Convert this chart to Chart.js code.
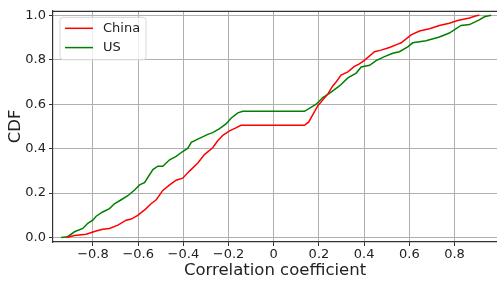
<!DOCTYPE html>
<html>
<head>
<meta charset="utf-8">
<script src="https://cdn.jsdelivr.net/npm/chart.js@4/dist/chart.umd.min.js"></script>
<style>
html,body{margin:0;padding:0;background:#fff;}
#wrap{width:497px;height:281px;}
</style>
</head>
<body>
<div id="wrap"><canvas id="c" width="497" height="281"></canvas></div>
<script>
const seriesNames = ["China", "US"];
const chinaX = [-0.918,-0.882,-0.83,-0.79,-0.757,-0.727,-0.69,-0.653,-0.631,-0.602,-0.565,-0.543,-0.52,-0.491,-0.461,-0.432,-0.403,-0.373,-0.336,-0.307,-0.27,-0.248,-0.224,-0.196,-0.17,-0.145,0.136,0.155,0.195,0.239,0.261,0.276,0.298,0.328,0.357,0.379,0.401,0.446,0.475,0.512,0.549,0.564,0.608,0.645,0.689,0.733,0.777,0.814,0.866,0.896,0.91];
const chinaY = [0,0.009,0.015,0.028,0.037,0.041,0.056,0.078,0.083,0.1,0.13,0.152,0.17,0.212,0.237,0.258,0.267,0.299,0.335,0.373,0.404,0.435,0.461,0.48,0.492,0.505,0.505,0.52,0.593,0.645,0.682,0.7,0.731,0.745,0.77,0.781,0.797,0.836,0.843,0.855,0.87,0.876,0.912,0.929,0.939,0.954,0.964,0.976,0.988,0.998,1.0];
const usX = [-0.941,-0.912,-0.882,-0.845,-0.823,-0.801,-0.786,-0.757,-0.727,-0.705,-0.675,-0.646,-0.616,-0.594,-0.572,-0.535,-0.513,-0.491,-0.461,-0.432,-0.403,-0.38,-0.365,-0.329,-0.292,-0.27,-0.24,-0.21,-0.189,-0.159,-0.137,0.136,0.188,0.217,0.246,0.291,0.328,0.365,0.387,0.424,0.453,0.49,0.527,0.556,0.593,0.615,0.674,0.733,0.777,0.829,0.866,0.91,0.932,0.962];
const usY = [0,0.004,0.026,0.041,0.064,0.078,0.096,0.115,0.13,0.152,0.17,0.188,0.214,0.237,0.247,0.306,0.321,0.321,0.35,0.365,0.387,0.402,0.428,0.446,0.464,0.472,0.49,0.512,0.537,0.561,0.568,0.568,0.6,0.63,0.649,0.682,0.718,0.74,0.767,0.775,0.796,0.814,0.829,0.836,0.858,0.876,0.885,0.902,0.92,0.954,0.958,0.979,0.993,1.0];
const xTicks = [-0.8,-0.6,-0.4,-0.2,0,0.2,0.4,0.6,0.8];
const yTicks = [0,0.2,0.4,0.6,0.8,1.0];
const xTitle = "Correlation coefficient";
const yTitle = "CDF";

const FONT = "'DejaVu Sans', sans-serif";
const toPts = (xs, ys) => xs.map((x, i) => ({x: x, y: ys[i]}));
const fmtX = v => { if (Math.abs(v) < 1e-9) return "0"; const s = Math.abs(v).toFixed(1); return (v < 0 ? "\u2212" : "") + s; };
const fmtY = v => v.toFixed(1);

const frameAndLegend = {
  id: 'frameAndLegend',
  afterDatasetsDraw(chart) {
    const ctx = chart.ctx, a = chart.chartArea;
    ctx.save();
    // top spine
    ctx.strokeStyle = '#333';
    ctx.lineWidth = 1.2;
    ctx.beginPath();
    ctx.moveTo(a.left, a.top + 0.5);
    ctx.lineTo(a.right, a.top + 0.5);
    ctx.stroke();
    // legend
    const bx = a.left + 7, by = a.top + 6.5, bw = 86, bh = 42.5, r = 3;
    ctx.beginPath();
    ctx.moveTo(bx + r, by);
    ctx.arcTo(bx + bw, by, bx + bw, by + bh, r);
    ctx.arcTo(bx + bw, by + bh, bx, by + bh, r);
    ctx.arcTo(bx, by + bh, bx, by, r);
    ctx.arcTo(bx, by, bx + bw, by, r);
    ctx.closePath();
    ctx.fillStyle = 'rgba(255,255,255,0.8)';
    ctx.fill();
    ctx.strokeStyle = '#d6d6d6';
    ctx.lineWidth = 1;
    ctx.stroke();
    ctx.font = "13px " + FONT;
    ctx.textBaseline = 'middle';
    ctx.textAlign = 'left';
    chart.data.datasets.forEach((ds, i) => {
      const ly = by + 11 + i * 19.3;
      ctx.strokeStyle = ds.borderColor;
      ctx.lineWidth = 1.5;
      ctx.beginPath();
      ctx.moveTo(bx + 5, ly);
      ctx.lineTo(bx + 33, ly);
      ctx.stroke();
      ctx.fillStyle = '#222';
      ctx.fillText(ds.label, bx + 43, ly + 0.5);
    });
    ctx.restore();
  }
};

new Chart(document.getElementById('c'), {
  type: 'scatter',
  data: {
    datasets: [
      {label: seriesNames[0], data: toPts(chinaX, chinaY), showLine: true, borderColor: '#ff0000', backgroundColor: '#ff0000', borderWidth: 1.5, pointRadius: 0, tension: 0},
      {label: seriesNames[1], data: toPts(usX, usY), showLine: true, borderColor: '#008000', backgroundColor: '#008000', borderWidth: 1.5, pointRadius: 0, tension: 0}
    ]
  },
  options: {
    responsive: false,
    animation: false,
    devicePixelRatio: 1,
    layout: {padding: {left: 0, right: 0, top: 6, bottom: 0}},
    plugins: {legend: {display: false}, tooltip: {enabled: false}},
    scales: {
      x: {
        type: 'linear',
        min: -0.977, max: 0.988,
        afterBuildTicks: s => { s.ticks = xTicks.map(v => ({value: v})); },
        afterFit: s => { s.height = 39; },
        ticks: {callback: v => fmtX(v), color: '#222', font: {family: FONT, size: 13}, padding: 1, maxRotation: 0, autoSkip: false},
        grid: {color: '#b0b0b0', lineWidth: 1, tickColor: '#333', tickLength: 4, drawOnChartArea: true},
        border: {display: true, color: '#333', width: 1.2},
        title: {display: true, text: xTitle, color: '#222', font: {family: FONT, size: 16.5}, padding: {top: 0, bottom: 0}}
      },
      y: {
        type: 'linear',
        min: -0.02, max: 1.02,
        afterBuildTicks: s => { s.ticks = yTicks.map(v => ({value: v})); },
        afterFit: s => { s.width = 53; },
        ticks: {callback: v => fmtY(v), color: '#222', font: {family: FONT, size: 13}, padding: 3, autoSkip: false},
        grid: {color: '#b0b0b0', lineWidth: 1, tickColor: '#333', tickLength: 4},
        border: {display: true, color: '#333', width: 1.2},
        title: {display: true, text: yTitle, color: '#222', font: {family: FONT, size: 16.5}, padding: {top: 6, bottom: 0}}
      }
    }
  },
  plugins: [frameAndLegend]
});
</script>
</body>
</html>
